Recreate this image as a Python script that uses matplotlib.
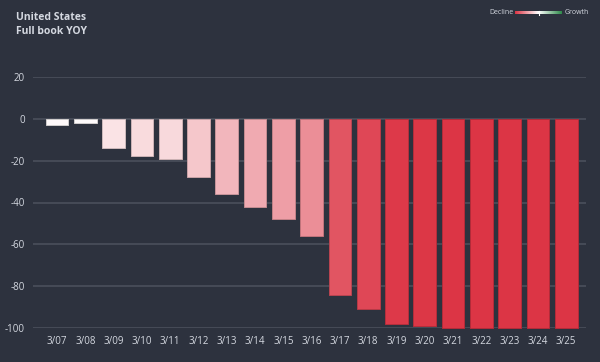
import matplotlib
matplotlib.use("Agg")
import matplotlib.pyplot as plt
import numpy as np
from matplotlib.colors import LinearSegmentedColormap, to_rgb

# data
dates = ['3/07', '3/08', '3/09', '3/10', '3/11', '3/12', '3/13', '3/14', '3/15', '3/16',
         '3/17', '3/18', '3/19', '3/20', '3/21', '3/22', '3/23', '3/24', '3/25']
yoy = [-3, -2, -14, -18, -19, -28, -36, -42, -48, -56,
       -84, -91, -98, -99, -100, -100, -100, -100, -100]
y_ticks = [20, 0, -20, -40, -60, -80, -100]

BG = '#2d323e'
GRID = '#4a4f5b'
TEXT = '#d4d8e0'
RED = '#dc3545'

plt.rcParams['font.family'] = ['Open Sans', 'DejaVu Sans']

decline = LinearSegmentedColormap.from_list('decline', ['#ffffff', RED])

fig = plt.figure(figsize=(6, 3.62), dpi=100, facecolor=BG)
ax = fig.add_axes([33 / 600, 1 - 328 / 362, 553 / 600, 251 / 362], facecolor=BG)

x = np.arange(len(dates))
face = [decline(min(-v, 100) / 100) for v in yoy]
edge = [tuple(c * 0.82 for c in to_rgb(f)) for f in face]
ax.bar(x, yoy, width=0.8, color=face, edgecolor=edge, linewidth=0.7, zorder=3, clip_on=False)

ax.set_xlim(-0.85, len(dates) - 0.3)
ax.set_ylim(-100, 20)
ax.set_yticks(y_ticks)
ax.set_yticklabels([str(t) for t in y_ticks])
ax.set_xticks(x)
ax.set_xticklabels(dates)
ax.grid(axis='y', color=GRID, linewidth=1.2, zorder=0)
ax.tick_params(length=0, colors=TEXT, labelsize=7)
ax.tick_params(axis='x', pad=6)
ax.tick_params(axis='y', pad=6)
for s in ax.spines.values():
    s.set_visible(False)

fig.text(16 / 600, 1 - 17 / 362, 'United States', color=TEXT, fontsize=7.5,
         fontweight='bold', va='center')
fig.text(16 / 600, 1 - 32 / 362, 'Full book YOY', color=TEXT, fontsize=7.5,
         fontweight='bold', va='center')

# gradient legend in the top right
lax = fig.add_axes([515 / 600, 1 - 15 / 362, 47 / 600, 4 / 362])
grad = LinearSegmentedColormap.from_list('legend', [RED, '#ffffff', '#2e8b4a'])
lax.imshow(np.linspace(0, 1, 200)[None, :], aspect='auto', cmap=grad, extent=[0, 1, 0, 1])
lax.plot([0.5, 0.5], [-0.4, 1.4], color='white', lw=0.8, clip_on=False)
lax.set_axis_off()
fig.text(513 / 600, 1 - 13 / 362, 'Decline', color=TEXT, fontsize=5, ha='right', va='center')
fig.text(565 / 600, 1 - 13 / 362, 'Growth', color=TEXT, fontsize=5, ha='left', va='center')

fig.savefig('out.png', dpi=100, facecolor=BG)
